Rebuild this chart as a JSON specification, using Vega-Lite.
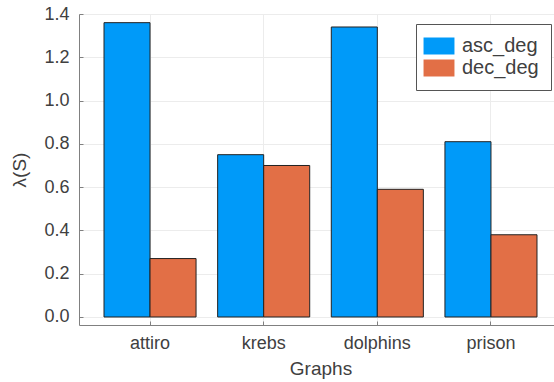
{
  "$schema": "https://vega.github.io/schema/vega-lite/v6.json",
  "autosize": "none",
  "padding": {"left": 79, "top": 14, "right": 0, "bottom": 57},
  "width": 475,
  "height": 311,
  "background": "white",
  "config": {
    "view": {"stroke": null},
    "font": "Liberation Sans"
  },
  "data": {
    "values": [
      {"graph": "attiro", "series": "asc_deg", "value": 1.36},
      {"graph": "attiro", "series": "dec_deg", "value": 0.27},
      {"graph": "krebs", "series": "asc_deg", "value": 0.75},
      {"graph": "krebs", "series": "dec_deg", "value": 0.70},
      {"graph": "dolphins", "series": "asc_deg", "value": 1.34},
      {"graph": "dolphins", "series": "dec_deg", "value": 0.59},
      {"graph": "prison", "series": "asc_deg", "value": 0.81},
      {"graph": "prison", "series": "dec_deg", "value": 0.38}
    ]
  },
  "mark": {"type": "bar", "stroke": "#222222", "strokeWidth": 1},
  "encoding": {
    "x": {
      "field": "graph",
      "type": "nominal",
      "sort": ["attiro", "krebs", "dolphins", "prison"],
      "scale": {"range": [0, 483], "paddingInner": 0.19, "paddingOuter": 0.22},
      "axis": {
        "title": "Graphs",
        "labelAngle": 0,
        "labelFontSize": 18,
        "labelColor": "#404040",
        "labelPadding": 13,
        "titleFontSize": 19,
        "titleFontWeight": "normal",
        "titleColor": "#404040",
        "titlePadding": 7,
        "domainColor": "#808080",
        "tickColor": "#808080",
        "tickSize": -4,
        "bandPosition": 0.5,
        "grid": true,
        "gridColor": "#ececec",
        "gridWidth": 1
      }
    },
    "xOffset": {
      "field": "series",
      "type": "nominal",
      "scale": {"paddingInner": 0, "paddingOuter": 0}
    },
    "y": {
      "field": "value",
      "type": "quantitative",
      "scale": {"domain": [-0.037, 1.4], "nice": false, "zero": false},
      "axis": {
        "title": "λ(S)",
        "values": [0, 0.2, 0.4, 0.6, 0.8, 1.0, 1.2, 1.4],
        "format": ".1f",
        "labelFontSize": 18,
        "labelColor": "#404040",
        "labelPadding": 14,
        "titleFontSize": 19,
        "titleFontWeight": "normal",
        "titleColor": "#404040",
        "titlePadding": 14,
        "domainColor": "#808080",
        "tickColor": "#808080",
        "tickSize": -4,
        "grid": true,
        "gridColor": "#ececec",
        "gridWidth": 1
      }
    },
    "y2": {"datum": 0},
    "color": {
      "field": "series",
      "type": "nominal",
      "scale": {"domain": ["asc_deg", "dec_deg"], "range": ["#009AF9", "#E26F46"]},
      "legend": {
        "title": null,
        "orient": "none",
        "legendX": 337,
        "legendY": 10,
        "direction": "vertical",
        "fillColor": "white",
        "strokeColor": "#555555",
        "padding": 12,
        "symbolType": "M-1.82,-1H1.82V1H-1.82Z",
        "symbolSize": 289,
        "symbolOffset": 1,
        "symbolStrokeWidth": 0,
        "symbolOpacity": 1,
        "labelFontSize": 20,
        "labelColor": "#404040",
        "labelOffset": 13,
        "rowPadding": 2
      }
    }
  }
}
